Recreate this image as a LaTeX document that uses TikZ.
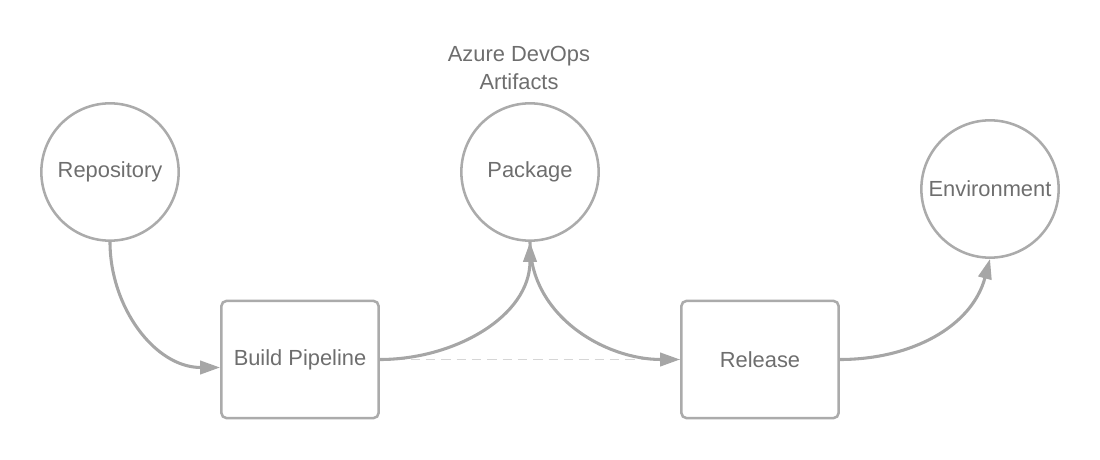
\documentclass[tikz,border=0pt]{standalone}
\usepackage{fontspec}
\setmainfont{Liberation Sans}
\usetikzlibrary{positioning, shapes, arrows.meta}
\definecolor{linegray}{HTML}{ABABAB}
\definecolor{edgegray}{HTML}{A6A6A6}
\definecolor{dashgray}{HTML}{D6D6D6}
\definecolor{textgray}{HTML}{6E6E6E}

\begin{document}
\begin{tikzpicture}[x=0.75pt, y=-0.75pt, font=\fontsize{16.4}{20.5}\selectfont, text=textgray,
    stage/.style={draw=linegray, circle, line width=1.9pt, minimum size=103pt, inner sep=0pt},
    job/.style={draw=linegray, rounded corners=4pt, line width=1.9pt, minimum width=118pt, minimum height=88pt},
    flow/.style={draw=edgegray, line width=2.3pt, -{Triangle[length=15pt, width=10pt]}},
    skip/.style={draw=dashgray, line width=1.1pt, dash pattern=on 7pt off 4.5pt}]
            \useasboundingbox (0,0) rectangle (1100,460);

            \node[stage] (repo) at (110,172) {Repository};
            \node[stage] (pkg) at (530,172) {Package};
            \node[stage] (env) at (990,189) {Environment};
            \node[job] (build) at (300,359.5) {Build Pipeline};
            \node[job] (release) at (760,359.5) {Release};
            \node[align=center, inner sep=0pt] (feed) at (519,68) {Azure DevOps\\Artifacts};

            % Draw edges
            \draw[skip] (build.east) -- (release.west);
            \draw[flow] (repo.south) to[out=-90, in=180] ([yshift=-6pt]build.west);
            \draw[flow] (build.east) to[out=0, in=-90] (pkg.south);
            \draw[flow] (pkg.south) to[out=-90, in=180] (release.west);
            \draw[flow] (release.east) to[out=0, in=-105] (env.south);
        \end{tikzpicture}
\end{document}
